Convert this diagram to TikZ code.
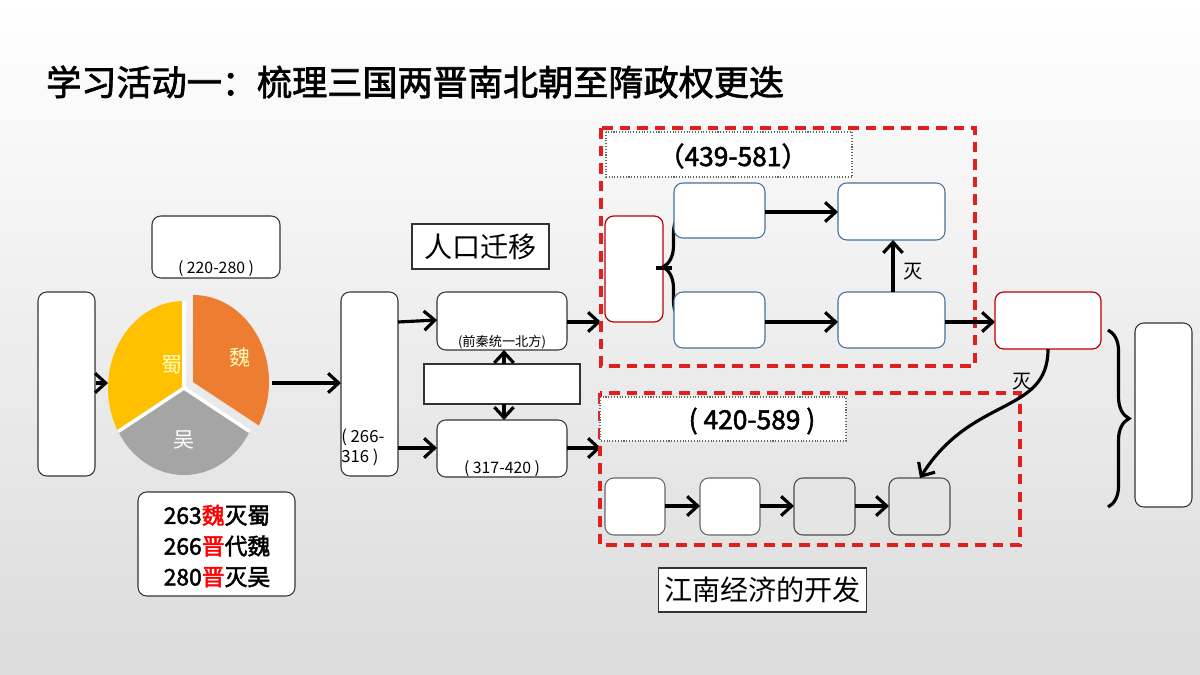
\documentclass[tikz,border=0pt]{standalone}
\usepackage{fontspec}
\setmainfont{Noto Sans CJK SC}
\newfontfamily\cjkb[FakeBold=2]{Noto Sans CJK SC}
\usetikzlibrary{arrows.meta,decorations.pathreplacing}
\definecolor{orng}{HTML}{ED7D31}
\definecolor{yel}{HTML}{FFC000}
\definecolor{gry}{HTML}{A5A5A5}
\definecolor{bord}{HTML}{41719C}
\definecolor{rd}{HTML}{E0201F}
\definecolor{dred}{HTML}{C00000}
\begin{document}
\begin{tikzpicture}[x=0.02cm,y=-0.02cm,
  box/.style={draw=black!80,fill=white,rounded corners=5pt,line width=0.6pt},
  bbox/.style={draw=bord,fill=white,rounded corners=5pt,line width=0.6pt},
  rbox/.style={draw=dred,fill=white,rounded corners=5pt,line width=0.7pt},
  gbox/.style={draw=black!70,fill=black!10,rounded corners=5pt,line width=0.6pt},
  arr/.style={line width=1.8pt,-{Straight Barb[length=6pt,width=11pt,line width=1.8pt]}},
  rdash/.style={draw=rd,line width=1.8pt,dash pattern=on 6pt off 4pt},
  dotb/.style={draw=black!60,densely dotted,line width=0.6pt,fill=white},
  brc/.style={decorate,decoration={brace,amplitude=12pt},line width=1.8pt},
  small/.style={font=\fontsize{9}{10}\selectfont}]
\shade[top color=white,bottom color=black!14] (0,0) rectangle (1200,675);
\useasboundingbox (0,0) rectangle (1200,675);
\node[anchor=west,font=\cjkb\fontsize{20}{22}\selectfont] (title) at (40,82) {学习活动一：梳理三国两晋南北朝至隋政权更迭};
% left
\draw[box] (38,292) rectangle (95,476) coordinate (Abr);
\coordinate (A) at (96,383);
\coordinate (pieL) at (108,383);
% pie
\coordinate (c) at (184,388);
\fill[yel] (c) -- ++(-90:76 and 87) arc[start angle=-90,end angle=-210,x radius=76,y radius=87] -- cycle;
\fill[gry] (c) -- ++(-210:76 and 87) arc[start angle=-210,end angle=-330,x radius=76,y radius=87] -- cycle;
\draw[white,line width=2pt] (c) -- ++(-90:76 and 87) (c) -- ++(-210:76 and 87) (c) -- ++(-330:76 and 87);
\fill[orng] ([shift={(9,-6)}]c) -- ++(-90:76 and 87) arc[start angle=-90,end angle=30,x radius=76,y radius=87] -- cycle;
\draw[arr] (A) -- (pieL);
\node[text=yellow!30,font=\fontsize{12}{14}\selectfont] (shu) at (172,365) {蜀};
\node[text=yellow!30,font=\fontsize{12}{14}\selectfont] (wei) at (240,357) {魏};
\node[text=white,font=\fontsize{12}{14}\selectfont] (wu) at (184,440) {吴};
\draw[box] (152,216) rectangle (280,278);
\node[small] (t1) at (216,269) {( 220-280 )};
\draw[box] (138,492) rectangle (295,596);
\node[align=left,font=\cjkb\fontsize{13}{17.5}\selectfont] (lst) at (217,546) {263\textcolor{red}{魏}灭蜀\\266\textcolor{red}{晋}代魏\\280\textcolor{red}{晋}灭吴};
% B
\draw[box] (341,292) rectangle (398,476);
\coordinate (pieR) at (272,383);
\coordinate (B) at (341,383);
\draw[arr] (pieR) -- (B);
\node[anchor=west,align=left,inner sep=0pt,font=\fontsize{9.5}{11.5}\selectfont] (bt) at (341,447) {( 266-\\316 )};
% C, D, E
\draw[box] (437,292) rectangle (567,350);
\node[font=\fontsize{7.5}{9}\selectfont] (ct) at (502,342) {(前秦统一北方)};
\draw[fill=white,draw=black!80,line width=0.6pt] (424,364) rectangle (580,404);
\draw[box] (437,420) rectangle (567,477);
\node[small] (et) at (502,469) {( 317-420 )};
\coordinate (Dt) at (504,364); \coordinate (Ct) at (504,350);
\coordinate (Db) at (504,404); \coordinate (Et) at (504,420);
\draw[arr] (Dt) -- (Ct);
\draw[arr] (Db) -- (Et);
\coordinate (B1) at (398,322); \coordinate (C1) at (437,320);
\coordinate (B2) at (398,448); \coordinate (E1) at (437,448);
\draw[arr] (B1) -- (C1);
\draw[arr] (B2) -- (E1);
\coordinate (C2) at (567,322); \coordinate (X1) at (601,322);
\coordinate (E2) at (567,448); \coordinate (X2) at (601,448);
\draw[arr] (C2) -- (X1);
\draw[arr] (E2) -- (X2);
\node[draw=black!80,fill=white,line width=0.6pt,minimum width=137*0.02cm,minimum height=45*0.02cm,font=\fontsize{16}{18}\selectfont] (rk) at (480.5,246.5) {人口迁移};
% north block
\draw[rdash] (601,128) rectangle (975,366);
\draw[dotb] (606,132) rectangle (852,177);
\node[font=\cjkb\fontsize{15}{17}\selectfont] (n1) at (733,156) {（439-581）};
\draw[rbox] (605,216) rectangle (663,322);
\draw[brc] (684,322) -- (684,212);
\draw[line width=1.8pt] (656,268) -- (672,268);
\draw[bbox] (674,183) rectangle (765,238);
\draw[bbox] (838,183) rectangle (945,240);
\draw[bbox] (674,292) rectangle (765,348);
\draw[bbox] (838,292) rectangle (945,348);
\coordinate (F1) at (765,212); \coordinate (F2) at (838,212);
\coordinate (F3) at (765,322); \coordinate (F4) at (838,322);
\draw[arr] (F1) -- (F2);
\draw[arr] (F3) -- (F4);
\coordinate (F4t) at (893,292); \coordinate (F2b) at (893,240);
\draw[arr] (F4t) -- (F2b);
\node[font=\fontsize{11}{13}\selectfont] (mie1) at (913,272) {灭};
\coordinate (F4r) at (945,322); \coordinate (Gl) at (995,322);
\draw[arr] (F4r) -- (Gl);
\draw[rbox] (995,292) rectangle (1101,349);
% right
\draw[box] (1135,323) rectangle (1192,507);
\draw[brc] (1108,330) -- (1108,507);
% south block
\draw[rdash] (600,393) rectangle (1020,545);
\draw[dotb] (600,397) rectangle (846,441);
\node[font=\cjkb\fontsize{15}{17}\selectfont] (n2) at (752,421) {( 420-589 )};
\draw[box,draw=black!60] (605,478) rectangle (665,535);
\draw[box,draw=black!60] (700,478) rectangle (760,535);
\draw[gbox] (794,478) rectangle (855,535);
\draw[gbox] (889,478) rectangle (950,535);
\coordinate (S1) at (665,506); \coordinate (S2) at (700,506);
\coordinate (S3) at (760,506); \coordinate (S4) at (794,506);
\coordinate (S5) at (855,506); \coordinate (S6) at (889,506);
\draw[arr] (S1) -- (S2);
\draw[arr] (S3) -- (S4);
\draw[arr] (S5) -- (S6);
\coordinate (Gb) at (1048,349); \coordinate (S7) at (920,478);
\draw[arr] (Gb) .. controls (1048,415) and (972,395) .. (S7);
\node[font=\fontsize{11}{13}\selectfont] (mie2) at (1022,382) {灭};
\node[draw=black!80,fill=white,line width=0.6pt,minimum width=195*0.02cm,minimum height=44*0.02cm,font=\fontsize{16}{18}\selectfont] (jn) at (762.5,590) {江南经济的开发};
\end{tikzpicture}
\end{document}
